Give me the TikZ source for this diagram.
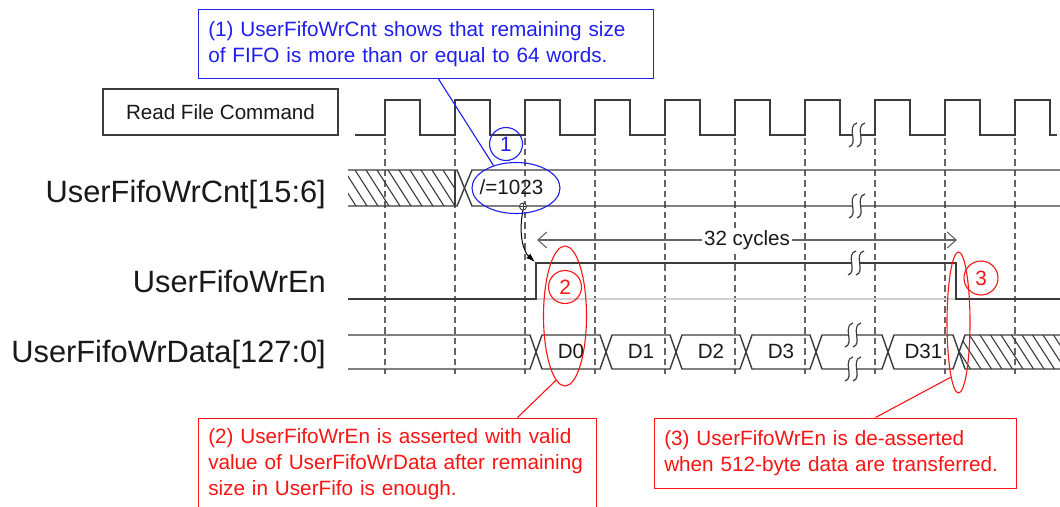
\documentclass[tikz,border=0pt]{standalone}
\usepackage{fontspec}
\setmainfont{Liberation Sans}
\usetikzlibrary{shapes.geometric,arrows.meta}
\definecolor{wv}{RGB}{60,60,60}
\definecolor{dsh}{RGB}{100,100,100}
\definecolor{cblue}{RGB}{30,30,240}
\definecolor{cred}{RGB}{250,20,20}
\definecolor{txt}{RGB}{25,25,25}
\newcommand\brkmark[2]{%
  \fill[white] (#1-4,#2-2.5) rectangle (#1+4,#2+2.5);
  \draw[wv,line width=1.2pt] (#1,#2-12) .. controls (#1-11,#2-9) and (#1+2,#2+9) .. (#1-8,#2+12);
  \draw[wv,line width=1.2pt] (#1+8,#2-12) .. controls (#1-3,#2-9) and (#1+10,#2+9) .. (#1,#2+12);
}
\begin{document}
\begin{tikzpicture}[x=1pt,y=-1pt,
  wave/.style={wv,line width=1.4pt,line join=miter},
  gridln/.style={dsh,line width=1.1pt,dash pattern=on 6.5pt off 4pt},
  hatch/.style={wv,line width=1.1pt},
  siglab/.style={inner sep=0pt,text=txt,font=\fontsize{30.8}{36}\selectfont},
  small/.style={font=\fontsize{20.6}{26}\selectfont},
  callout/.style={rectangle,draw,line width=1.5pt,inner xsep=10pt,inner ysep=0pt,align=left,anchor=north west,font=\fontsize{20.7}{26}\selectfont},
  numc/.style={circle,draw,line width=1.1pt,minimum size=33pt,inner sep=0pt,font=\fontsize{20.7}{24}\selectfont},
  ring/.style={ellipse,draw,line width=1.1pt,inner sep=0pt}
]
\useasboundingbox (0,0) rectangle (1060,506);
\clip (0,0) rectangle (1060,506);
\fill[white] (0,0) rectangle (1060,506);

% grid lines
\foreach \x in {385,455,...,1015} \draw[gridln] (\x,138) -- (\x,374);

% labels
\node[draw=wv,line width=1.2pt,minimum width=235pt,minimum height=46pt,inner sep=0pt,text=txt,small] (rfc) at (220.5,112) {Read File Command};
\node[siglab,anchor=base east] (lcnt) at (326,202) {UserFifoWrCnt[15:6]};
\node[siglab,anchor=base east] (len) at (326,292) {UserFifoWrEn};
\node[siglab,anchor=base east] (ldat) at (326,362) {UserFifoWrData[127:0]};

% clock
\draw[wave] (355,135) \foreach \r in {385,455,...,1015} { -- (\r,135) -- (\r,100) -- (\r+35,100) -- (\r+35,135) } -- (1057,135);
\brkmark{857}{135}

% UserFifoWrCnt
\begin{scope}
\clip (348,170) rectangle (455,206);
\foreach \i in {0,...,13} \draw[hatch] (322+\i*11,170) -- (345+\i*11,206);
\end{scope}
\draw[wave] (348,170) -- (457,170) -- (472,206) -- (1060,206);
\draw[wave] (348,206) -- (457,206) -- (472,170) -- (1060,170);
\draw[wv,line width=1.1pt] (455,170) -- (455,206);
\brkmark{857}{206}
\node[small,text=txt,anchor=base,inner sep=0pt] (cntv) at (511.5,194) {/=1023};

% UserFifoWrEn
\draw[gray!35,line width=1.2pt] (536,299) -- (956,299);
\draw[wave] (348,299) -- (536,299) -- (536,263) -- (956,263) -- (956,299) -- (1060,299);
\brkmark{856}{263}

% UserFifoWrData
\begin{scope}
\clip (959,352) -- (965,335) -- (1060,335) -- (1060,369) -- (965,369) -- cycle;
\foreach \i in {0,...,12} \draw[hatch] (938+\i*10.5,335) -- (960+\i*10.5,369);
\end{scope}
\draw[wave] (348,335) -- (530,335) -- (542,369) -- (600,369) -- (612,335) -- (670,335) -- (682,369) -- (740,369) -- (752,335) -- (810,335) -- (822,369) -- (882,369) -- (894,335) -- (953,335) -- (965,369) -- (1060,369);
\draw[wave] (348,369) -- (530,369) -- (542,335) -- (600,335) -- (612,369) -- (670,369) -- (682,335) -- (740,335) -- (752,369) -- (810,369) -- (822,335) -- (882,335) -- (894,369) -- (953,369) -- (965,335) -- (1060,335);
\brkmark{853}{335}
\brkmark{853}{369}
\foreach \n/\x in {D0/571,D1/641,D2/711,D3/781,D31/923.5}
  \node[small,text=txt,anchor=base,inner sep=0pt] (d\n) at (\x,358.5) {\n};

% 32 cycles
\coordinate (cyA) at (537,240);
\coordinate (cyB) at (957,240);
\draw[dsh,line width=1.1pt,{Straight Barb[length=9pt,width=16pt]}-{Straight Barb[length=9pt,width=16pt]}] (cyA) -- node[fill=white,inner sep=2pt,text=txt,small] (cyc) {32 cycles} (cyB);

% causal arrow
\coordinate (mk) at (523,206.5);
\coordinate (wenr) at (535,262);
\draw[wv,line width=0.9pt,fill=white] (mk) circle[radius=3.5];
\draw[wv,line width=0.8pt] (519.5,206.5) -- (526.5,206.5) (523,203) -- (523,210);
\draw[black,line width=1pt,-{Latex[length=9pt,width=6pt]}] (523,210) .. controls (518,236) and (524,252) .. (wenr);

% blue callout
\node[ring,color=cblue,minimum width=88pt,minimum height=51pt] (e1) at (516,188) {};
\node[numc,color=cblue] (n1) at (506,144) {1};
\node[callout,color=cblue,minimum width=455pt,minimum height=69pt,text width=435pt] (c1) at (197.5,8.5) {(1) UserFifoWrCnt shows that remaining size\\of FIFO is more than or equal to 64 words.};
\draw[cblue,line width=1.1pt] ([xshift=241pt]c1.south west) -- (e1.135);

% red callouts
\node[ring,color=cred,minimum width=43pt,minimum height=140pt] (e2) at (565,316) {};
\node[numc,color=cred] (n2) at (565,287) {2};
\node[ring,color=cred,minimum width=23pt,minimum height=141pt] (e3) at (958.5,322.5) {};
\node[numc,color=cred,minimum size=34pt] (n3) at (981,278) {3};
\node[callout,color=cred,minimum width=398pt,minimum height=91pt,text width=378pt] (c2) at (197.5,417.5) {(2) UserFifoWrEn is asserted with valid\\value of UserFifoWrData after remaining\\size in UserFifo is enough.};
\node[callout,color=cred,minimum width=362pt,minimum height=70pt,text width=342pt] (c3) at (653.5,417.5) {(3) UserFifoWrEn is de-asserted\\when 512-byte data are transferred.};
\draw[cred,line width=1.1pt] ([xshift=320pt]c2.north west) -- (e2.262);
\draw[cred,line width=1.1pt] ([xshift=222pt]c3.north west) -- (e3.262);
\end{tikzpicture}
\end{document}
